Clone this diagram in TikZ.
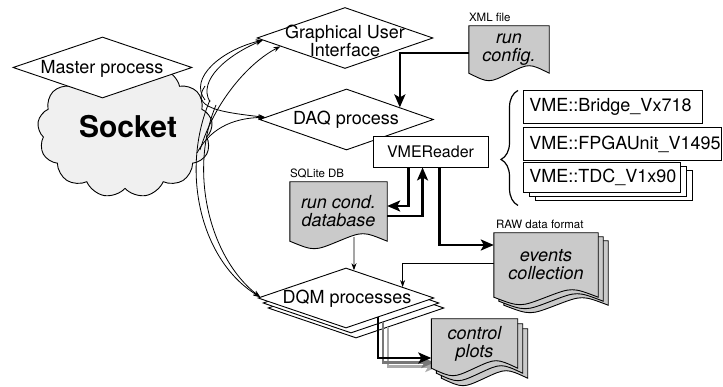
\documentclass[tikz,border=0pt]{standalone}
\usepackage{fontspec}
\setmainfont{TeX Gyre Heros}
\usetikzlibrary{shapes.geometric,shapes.symbols,arrows.meta,calc,decorations.pathreplacing}
\definecolor{docgray}{HTML}{CACACA}
\definecolor{cloudgray}{HTML}{F0F0F0}
\definecolor{shadowA}{HTML}{777777}
\definecolor{shadowB}{HTML}{AAAAAA}
\newcommand\docshape[3]{%
  \path[docfill] ($(#1.north west)+(#2,#3)$) -- ($(#1.north east)+(#2,#3)$) -- ($(#1.south east)+(#2,#3)$)
   .. controls ($(#1.south east)!0.5!(#1.south)+(#2,#3-10)$) .. ($(#1.south)+(#2,#3)$)
   .. controls ($(#1.south)!0.5!(#1.south west)+(#2,#3+10)$) .. ($(#1.south west)+(#2,#3)$) -- cycle;}
\begin{document}
\begin{tikzpicture}[x=1pt,y=-1pt,
  dia/.style={diamond, draw, fill=white, inner sep=0pt, line width=0.9pt},
  lbl/.style={font=\fontsize{18}{18}\selectfont, align=center, inner sep=0pt},
  doclbl/.style={font=\fontsize{18}{18}\selectfont\itshape, align=center, inner sep=0pt},
  small/.style={font=\fontsize{11.5}{12}\selectfont, inner sep=0pt, anchor=base west},
  vbox/.style={draw, fill=white, line width=0.9pt, inner xsep=6pt, inner ysep=0pt, align=left, font=\fontsize{18}{18}\selectfont, anchor=north west},
  docnode/.style={rectangle, inner sep=0pt},
  docfill/.style={draw, fill=docgray, line width=0.9pt},
  thinarr/.style={line width=0.8pt, -{Stealth[length=7pt,width=5pt]}},
  thickarr/.style={line width=2.4pt, -{Stealth[length=13pt,width=11pt,inset=3pt]}},
]
\useasboundingbox (0,0) rectangle (723,387);

% Socket cloud and master process
\node[cloud, cloud puffs=13, cloud puff arc=115, aspect=1.3, draw, line width=0.9pt, fill=cloudgray,
      minimum width=175pt, minimum height=135pt, inner sep=0pt] (sock) at (125,130) {};
\node[font=\fontsize{30}{30}\selectfont\bfseries, inner sep=0pt] (socktxt) at (128,127) {Socket};
\node[dia, minimum width=179pt, minimum height=61pt] (master) at (102.5,67.5) {};
\node[lbl] (mastertxt) at (102,69) {Master process};

% start points of the socket connectors
\coordinate (s1) at (205,100);
\coordinate (s2) at (210,102);
\coordinate (s3) at (200,150);
\coordinate (s4) at (205,86);
\coordinate (s5) at (197,153);
\coordinate (s6) at (210,100);
\coordinate (s7) at (216,105);

% process diamonds
\node[dia, minimum width=176pt, minimum height=61pt] (gui) at (345,38) {};
\node[lbl] (guitxt) at (345,41) {Graphical User\\Interface};
\node[dia, minimum width=174pt, minimum height=61pt] (daq) at (346.5,119.5) {};
\node[lbl] (daqtxt) at (346,120) {DAQ process};
\node[dia, minimum width=176pt, minimum height=60pt] (dqm3) at (356,308) {};
\node[dia, minimum width=176pt, minimum height=60pt] (dqm2) at (351,303) {};
\node[dia, minimum width=176pt, minimum height=60pt] (dqm) at (346,298) {};
\node[lbl] (dqmtxt) at (347,299) {DQM processes};

% curved connectors from the socket
\draw[thinarr] (s1) .. controls (188,78) and (222,50) .. ($(gui.west)!0.07!(gui.south)$);
\draw[thinarr] (s2) .. controls (197,80) and (228,55) .. ($(gui.west)!0.07!(gui.south)$);
\draw[thinarr] (s3) .. controls (215,100) and (250,62) .. ($(gui.west)!0.27!(gui.south)$);
\draw[thinarr] (s4) .. controls (190,108) and (220,112) .. ($(daq.west)!0.07!(daq.north)$);
\draw[thinarr] (s5) .. controls (212,125) and (238,118) .. ($(daq.west)!0.07!(daq.north)$);
\draw[thinarr] (s6) .. controls (180,170) and (200,260) .. ($(dqm.west)!0.03!(dqm.north)$);
\draw[thinarr] (s7) .. controls (188,172) and (210,258) .. ($(dqm.west)!0.03!(dqm.north)$);

% VMEReader
\node[draw, fill=white, line width=0.9pt, minimum width=115pt, minimum height=31pt, inner sep=0pt,
      font=\fontsize{16}{16}\selectfont] (vme) at (430.5,151.5) {VMEReader};

% VME boards
\node[vbox, text width=167pt, minimum height=33pt] (bridge) at (523,90) {VME::Bridge\_Vx718};
\node[vbox, text width=186pt, minimum height=33pt] (fpga) at (523,127) {VME::FPGAUnit\_V1495};
\node[vbox, text width=145pt, minimum height=30pt] (tdc3) at (535,170) {};
\node[vbox, text width=145pt, minimum height=30pt] (tdc2) at (529,166) {};
\node[vbox, text width=145pt, minimum height=30pt] (tdc) at (523,162) {VME::TDC\_V1x90};
\draw[decorate, decoration={brace, amplitude=17pt, aspect=0.4}, line width=1.2pt]
  ($(tdc.west)+(-5,28)$) coordinate (bracebot) -- ($(bridge.west)+(-5,-16.5)$) coordinate (bracetop);

% documents
\node[docnode, minimum width=80pt, minimum height=47pt] (cfg) at (509,49.5) {};
\docshape{cfg}{0}{0}
\node[doclbl] (cfgtxt) at (cfg.center) {run\\config.};
\node[small] (xml) at ($(cfg.north west)+(0,-4.5)$) {XML file};

\node[docnode, minimum width=97pt, minimum height=59pt] (cond) at (338.5,211.5) {};
\docshape{cond}{0}{0}
\node[doclbl] (condtxt) at (cond.center) {run cond.\\database};
\node[small] (sqlite) at ($(cond.north west)+(0,-4.5)$) {SQLite DB};

\node[docnode, minimum width=104pt, minimum height=64pt] (ev) at (546,265) {};

\node[docnode, minimum width=86pt, minimum height=49pt] (plots) at (474.5,343.5) {};

% thick connectors
\draw[thickarr] ($(cfg.west)+(0,3.5)$) -| ($(daq.north)!0.61!(daq.east)$);
\draw[thickarr] ($(vme.south west)+(36,0)$) |- ($(cond.east)+(0,-5.5)$);
\draw[thickarr] ($(cond.east)+(0,4.5)$) -| ($(vme.south west)+(50,0)$);
\draw[thickarr] ($(vme.south west)+(67,0)$) |- ($(ev.west)+(0,-20)$);

% DQM to control plots (with shadows)
\draw[line width=2.4pt, shadowB, -{Stealth[length=13pt,width=11pt,inset=3pt]}]
  ($(dqm3.east)!0.636!(dqm3.south)$) |- ($(plots.west)+(7,23)$);
\draw[line width=2.4pt, shadowA, -{Stealth[length=13pt,width=11pt,inset=3pt]}]
  ($(dqm2.east)!0.636!(dqm2.south)$) |- ($(plots.west)+(3,19)$);
\draw[thickarr] ($(dqm.east)!0.636!(dqm.south)$) |- ($(plots.west)+(0,14.5)$);

% thin connectors
\draw[thinarr] ($(cond.south)+(15.5,-4)$) -- ($(dqm.north)!0.09!(dqm.east)$);
\draw[thinarr] ($(ev.west)+(0,-2)$) -| ($(dqm.north)!0.64!(dqm.east)$);

% events collection (stack)
\docshape{ev}{10}{8}
\docshape{ev}{5}{4}
\docshape{ev}{0}{0}
\node[doclbl] (evtxt) at (ev.center) {events\\collection};
\node[small] (raw) at ($(ev.north west)+(2,-4)$) {RAW data format};

% control plots (stack)
\docshape{plots}{10}{10}
\docshape{plots}{5}{5}
\docshape{plots}{0}{0}
\node[doclbl] (plotstxt) at (plots.center) {control\\plots};

\end{tikzpicture}
\end{document}
